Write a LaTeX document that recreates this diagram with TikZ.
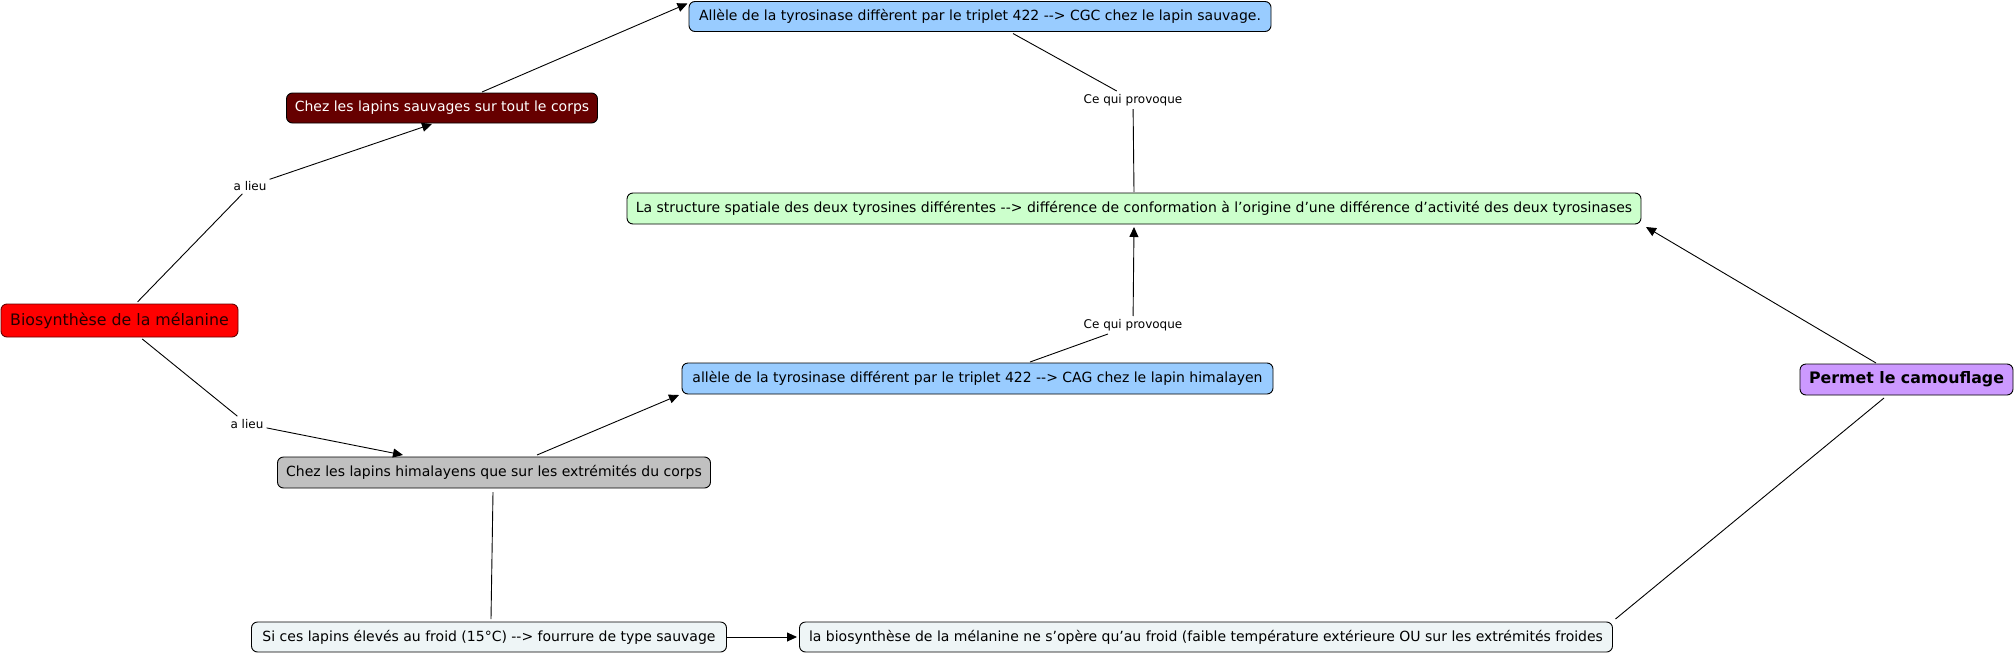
\documentclass[tikz,border=0pt]{standalone}
\usepackage{fontspec}
\setmainfont{DejaVu Sans}
\usetikzlibrary{arrows.meta}
\definecolor{cblue}{RGB}{153,204,255}
\definecolor{cdark}{RGB}{102,0,0}
\definecolor{cgreen}{RGB}{204,255,204}
\definecolor{cred}{RGB}{255,0,0}
\definecolor{cpurple}{RGB}{204,153,255}
\definecolor{cgray}{RGB}{192,192,192}
\definecolor{clight}{RGB}{238,245,246}
\tikzset{
  concept/.style={draw=black, line width=0.9pt, rounded corners=6pt,
    font=\fontsize{14}{16}\selectfont, inner sep=2pt, outer sep=0pt, align=center},
  linklab/.style={font=\fontsize{12}{14}\selectfont, inner sep=3pt},
  conn/.style={line width=0.9pt},
  arr/.style={conn, -{Triangle[length=10pt,width=9pt]}},
}
\begin{document}
\begin{tikzpicture}[x=1pt,y=-1pt]
\useasboundingbox (0,0) rectangle (2014,654);
% concepts
\node[concept, fill=cblue, minimum width=582pt, minimum height=30pt] (allS) at (980,16.5)
  {Allèle de la tyrosinase diffèrent par le triplet 422 -{}-{}> CGC chez le lapin sauvage.};
\node[concept, fill=cdark, text=white, minimum width=311pt, minimum height=30pt] (cs) at (442,108)
  {Chez les lapins sauvages sur tout le corps};
\node[concept, fill=cgreen, minimum width=1014pt, minimum height=31pt] (struct) at (1134,208.5)
  {La structure spatiale des deux tyrosines différentes -{}-{}> différence de conformation à l’origine d’une différence d’activité des deux tyrosinases};
\node[concept, fill=cred, draw=cdark, text=black!85!red, minimum width=237pt, minimum height=33pt,
  font=\fontsize{15.8}{18}\selectfont] (bio) at (119.5,320.5)
  {Biosynthèse de la mélanine};
\node[concept, fill=cblue, minimum width=591pt, minimum height=31pt] (allH) at (977.5,378.5)
  {allèle de la tyrosinase différent par le triplet 422 -{}-{}> CAG chez le lapin himalayen};
\node[concept, fill=cpurple, minimum width=213pt, minimum height=31pt,
  font=\fontsize{15.8}{18}\selectfont\bfseries] (perm) at (1906.5,379.5)
  {Permet le camouflage};
\node[concept, fill=cgray, minimum width=433pt, minimum height=31pt] (chH) at (494,472.5)
  {Chez les lapins himalayens que sur les extrémités du corps};
\node[concept, fill=clight, minimum width=475pt, minimum height=30pt] (si) at (489,637)
  {Si ces lapins élevés au froid (15°C) -{}-{}> fourrure de type sauvage};
\node[concept, fill=clight, minimum width=813pt, minimum height=30pt] (lab) at (1206,637)
  {la biosynthèse de la mélanine ne s’opère qu’au froid (faible température extérieure OU sur les extrémités froides};
% linking phrases
\node[linklab] (L1) at (250,186) {a lieu};
\node[linklab] (L2) at (247,424) {a lieu};
\node[linklab] (L3) at (1133,100) {Ce qui provoque};
\node[linklab] (L4) at (1133,325) {Ce qui provoque};
% connectors
\draw[conn, shorten >=3pt] (L1) -- (bio);
\draw[arr] (L1) -- ([xshift=-10pt,yshift=-1pt]cs.south);
\draw[conn, shorten >=3pt] (L2) -- (bio);
\draw[arr] (L2) -- ([xshift=-91pt,yshift=2pt]chH.north);
\draw[arr] ([xshift=40pt,yshift=1pt]cs.north) -- ([xshift=-1.5pt,yshift=-2pt]allS.north west);
\draw[conn] ([xshift=33pt,yshift=-2pt]allS.south) -- (L3);
\draw[conn] (L3) -- ([yshift=1pt]struct.north);
\draw[conn] ([xshift=52.5pt,yshift=1pt]allH.north) -- (L4);
\draw[arr] (L4) -- ([yshift=-3pt]struct.south);
\draw[arr] ([xshift=43pt,yshift=2pt]chH.north) -- ([xshift=-3pt,yshift=-1pt]allH.south west);
\draw[conn] ([xshift=-1pt,yshift=-4pt]chH.south) -- ([xshift=2pt,yshift=3pt]si.north);
\draw[arr, shorten >=2.5pt] (si.east) -- (lab.west);
\draw[conn] ([xshift=3pt,yshift=3pt]lab.north east) -- ([xshift=-22.5pt,yshift=-3pt]perm.south);
\draw[arr] ([xshift=-30.5pt,yshift=1pt]perm.north) -- ([xshift=5pt,yshift=-3pt]struct.south east);
\end{tikzpicture}
\end{document}
